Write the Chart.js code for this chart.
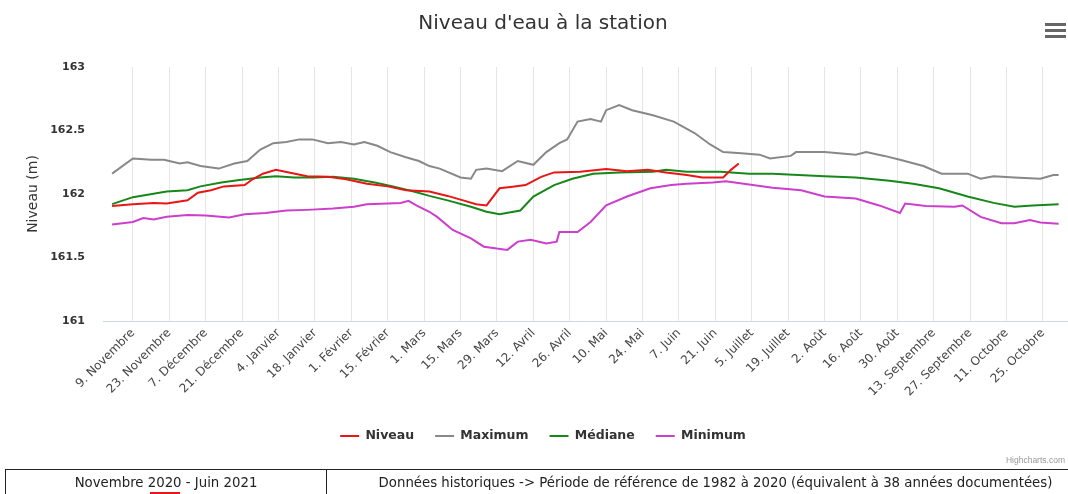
<!DOCTYPE html>
<html lang="fr">
<head>
<meta charset="utf-8">
<title>Niveau d'eau à la station</title>
<script src="https://cdn.jsdelivr.net/npm/chart.js@4.4.1/dist/chart.umd.min.js"></script>
<style>
html, body { margin: 0; padding: 0; background: #fff; overflow: hidden; }
body { width: 1068px; height: 494px; position: relative; font-family: "DejaVu Sans", sans-serif; }
#wrap { position: absolute; left: 0; top: 0; width: 1086px; height: 470px; }
#menu { position: absolute; left: 1045px; top: 23px; width: 21px; }
#menu span { display: block; height: 3px; background: #666; margin-bottom: 3px; }
#credit { position: absolute; right: 3px; top: 455px; font: 8.5px "Liberation Sans", sans-serif; color: #999; }
table.ref { position: absolute; left: 5px; top: 469px; width: 1100px; border-collapse: collapse; font-size: 13.3px; color: #222; }
table.ref td { border: 1px solid #222; text-align: center; vertical-align: top; height: 40px; padding: 5px 0 0 0; }
#mark { position: absolute; left: 150px; top: 492px; width: 30px; height: 2px; background: #e8161b; }
</style>
</head>
<body>
<div id="wrap"><canvas id="chart"></canvas></div>
<div id="menu"><span></span><span></span><span></span></div>
<div id="credit">Highcharts.com</div>
<table class="ref">
  <tr>
    <td style="width:320px">Novembre 2020 - Juin 2021</td>
    <td>Données historiques -&gt; Période de référence de 1982 à 2020 (équivalent à 38 années documentées)</td>
  </tr>
</table>
<div id="mark"></div>
<script>
"use strict";
// days counted from 1 November
const tickDays = [8, 22, 36, 50, 64, 78, 92, 106, 120, 134, 148, 162, 176, 190, 204, 218, 232, 246, 260, 274, 288, 302, 316, 330, 344, 358];
const tickLabels = ["9. Novembre", "23. Novembre", "7. Décembre", "21. Décembre", "4. Janvier", "18. Janvier", "1. Février", "15. Février",
    "1. Mars", "15. Mars", "29. Mars", "12. Avril", "26. Avril", "10. Mai", "24. Mai", "7. Juin", "21. Juin", "5. Juillet", "19. Juillet",
    "2. Août", "16. Août", "30. Août", "13. Septembre", "27. Septembre", "11. Octobre", "25. Octobre"];

const niveauDays = [0, 8, 16, 21, 29, 33, 38, 43, 51, 54, 58, 63, 68, 75, 83, 90, 98, 106, 113, 122, 129, 135, 140, 144, 149, 154, 159, 165, 170, 180, 190, 198, 206, 213, 221, 227, 235, 238, 241];
const niveauLevels = [161.906, 161.92, 161.93, 161.925, 161.95, 162.01, 162.03, 162.06, 162.07, 162.116, 162.16, 162.19, 162.17, 162.14, 162.135, 162.116, 162.08, 162.06, 162.03, 162.02,
    161.985, 161.95, 161.92, 161.91, 162.045, 162.057, 162.07, 162.135, 162.17, 162.175, 162.197, 162.18, 162.19, 162.17, 162.15, 162.13, 162.13, 162.19, 162.24];

const maxDays = [0, 8, 15, 20, 26, 29, 34, 41, 47, 52, 57, 62, 67, 72, 77, 83, 88, 93, 97, 102, 107, 113, 118, 122, 126, 134, 138, 140, 144, 150, 156, 162, 167, 172, 175, 179, 184, 188, 190, 195,
    200, 208, 216, 224, 230, 235, 242, 249, 253, 261, 263, 274, 286, 290, 297, 303, 312, 319, 329, 334, 339, 347, 357, 362, 364];
const maxLevels = [162.16, 162.28, 162.27, 162.27, 162.24, 162.25, 162.22, 162.2, 162.24, 162.26, 162.35, 162.4, 162.41, 162.43, 162.43, 162.4, 162.41, 162.39, 162.41, 162.38,
    162.33, 162.29, 162.26, 162.22, 162.2, 162.13, 162.12, 162.19, 162.2, 162.18, 162.26, 162.23, 162.33, 162.4, 162.43, 162.57, 162.59, 162.57, 162.66, 162.7,
    162.66, 162.62, 162.57, 162.48, 162.39, 162.33, 162.32, 162.31, 162.28, 162.3, 162.33, 162.33, 162.31, 162.33, 162.3, 162.27, 162.22, 162.16, 162.16, 162.12,
    162.14, 162.13, 162.12, 162.15, 162.15];

const medDays = [0, 8, 21, 29, 34, 42, 49, 57, 63, 70, 77, 85, 93, 101, 108, 116, 122, 129, 138, 144, 149, 157, 162, 170, 177, 185, 195, 208, 213, 221, 234, 245, 254, 274, 286, 299, 308, 318, 329, 339, 347, 354, 364];
const medLevels = [161.92, 161.975, 162.02, 162.03, 162.06, 162.09, 162.11, 162.13, 162.14, 162.13, 162.13, 162.135, 162.12, 162.09, 162.06, 162.02, 161.985, 161.95, 161.9, 161.86,
    161.84, 161.87, 161.98, 162.07, 162.12, 162.16, 162.17, 162.175, 162.19, 162.175, 162.175, 162.16, 162.16, 162.14, 162.13, 162.105, 162.08, 162.045, 161.98, 161.93,
    161.9, 161.91, 161.92];

const minDays = [0, 8, 12, 16, 21, 29, 36, 45, 51, 59, 67, 75, 85, 93, 98, 106, 111, 114, 117, 122, 125, 131, 138, 143, 148, 152, 156, 161, 167, 171, 172, 179, 184, 190, 198, 207, 215, 221, 231, 236,
    245, 254, 265, 274, 286, 295, 303, 305, 313, 324, 327, 334, 342, 347, 353, 357, 364];
const minLevels = [161.76, 161.78, 161.81, 161.8, 161.82, 161.835, 161.83, 161.815, 161.84, 161.85, 161.87, 161.875, 161.885, 161.9, 161.92, 161.925, 161.93, 161.946, 161.91, 161.86,
    161.82, 161.717, 161.65, 161.585, 161.57, 161.56, 161.625, 161.64, 161.61, 161.625, 161.7, 161.7, 161.78, 161.91, 161.98, 162.045, 162.07, 162.08, 162.09, 162.1,
    162.075, 162.05, 162.03, 161.98, 161.965, 161.91, 161.85, 161.925, 161.906, 161.9, 161.91, 161.82, 161.77, 161.77, 161.795, 161.775, 161.765];

const FONT = "'DejaVu Sans', sans-serif";

const series = (label, days, levels, color) => ({
    label,
    data: days.map((d, i) => ({ x: d, y: levels[i] })),
    borderColor: color,
    backgroundColor: color,
    borderWidth: 2,
    pointRadius: 0,
    tension: 0
});

// the canvas is a bit wider than the window: the original chart was cropped on its right side
new Chart(document.getElementById("chart"), {
    type: "line",
    data: {
        datasets: [
            series("Niveau", niveauDays, niveauLevels, "#ea1515"),
            series("Maximum", maxDays, maxLevels, "#888888"),
            series("Médiane", medDays, medLevels, "#17871a"),
            series("Minimum", minDays, minLevels, "#cc3ecc")
        ]
    },
    options: {
        animation: false,
        responsive: true,
        maintainAspectRatio: false,
        layout: { padding: { left: 17, right: 17, top: 0, bottom: 17.75 } },
        plugins: {
            title: {
                display: true,
                text: "Niveau d'eau à la station",
                color: "#333",
                font: { family: FONT, size: 20, weight: "normal" },
                padding: { top: 12, bottom: 31 }
            },
            legend: {
                position: "bottom",
                labels: {
                    usePointStyle: true,
                    pointStyle: "line",
                    pointStyleWidth: 19,
                    padding: 21,
                    color: "#333",
                    font: { family: FONT, size: 12.5, weight: "bold" }
                }
            },
            tooltip: { enabled: false }
        },
        scales: {
            x: {
                type: "linear",
                min: -3.5,
                max: 368,
                afterBuildTicks: s => { s.ticks = tickDays.map(value => ({ value })); },
                afterFit: s => { s.height = 87.75; },
                grid: { color: "#e6e6e6", drawTicks: false },
                border: { color: "#ccd6eb" },
                ticks: {
                    autoSkip: false,
                    minRotation: 45,
                    maxRotation: 45,
                    padding: 5,
                    color: "#444",
                    font: { family: FONT, size: 12 },
                    callback: (v, i) => tickLabels[i]
                }
            },
            y: {
                min: 161,
                max: 163,
                afterFit: s => { s.width = 86; },
                grid: { display: false, drawTicks: false },
                border: { display: false },
                ticks: {
                    stepSize: 0.5,
                    padding: 18,
                    color: "#333",
                    font: { family: FONT, size: 11, weight: "bold" },
                    callback: v => String(v)
                },
                title: {
                    display: true,
                    text: "Niveau (m)",
                    color: "#333",
                    font: { family: FONT, size: 14 },
                    padding: { top: 7.6, bottom: 0 }
                }
            }
        }
    }
});
</script>
</body>
</html>
